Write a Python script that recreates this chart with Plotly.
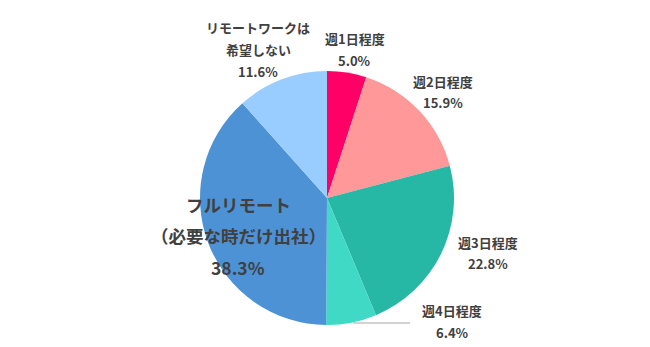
import plotly.graph_objects as go

W, H = 650, 347

categories = ["週1日程度", "週2日程度", "週3日程度", "週4日程度",
              "フルリモート（必要な時だけ出社）", "リモートワークは希望しない"]
values = [5.0, 15.9, 22.8, 6.4, 38.3, 11.6]
colors = ["#FF0066", "#FF9999", "#26B8A5", "#3FD9C6", "#4D92D5", "#99CCFF"]

# label lines per slice (text) and their pixel centers (layout)
label_lines = [
    ["週1日程度", "5.0%"],
    ["週2日程度", "15.9%"],
    ["週3日程度", "22.8%"],
    ["週4日程度", "6.4%"],
    ["フルリモート", "（必要な時だけ出社）", "38.3%"],
    ["リモートワークは", "希望しない", "11.6%"],
]
label_pos = [
    (355, [39, 61]),
    (443, [81, 102]),
    (488, [242, 263]),
    (452, [310, 332]),
    (238, [204, 235, 267]),
    (258, [28, 50, 72]),
]
label_size = [13, 13, 13, 13, 17.5, 13]

cx, cy, r = 327, 198, 127

fig = go.Figure(go.Pie(
    labels=categories,
    values=values,
    sort=False,
    direction="clockwise",
    rotation=0,
    marker=dict(colors=colors, line=dict(width=0)),
    textinfo="none",
    hoverinfo="label+percent",
    showlegend=False,
    domain=dict(x=[(cx - r) / W, (cx + r) / W],
                y=[1 - (cy + r) / H, 1 - (cy - r) / H]),
))

annotations = []
for lines, (x, ys), sz in zip(label_lines, label_pos, label_size):
    for t, y in zip(lines, ys):
        annotations.append(dict(
            text=f"<b>{t}</b>", x=x / W, y=1 - y / H, xref="paper", yref="paper",
            showarrow=False, xanchor="center", yanchor="middle",
            font=dict(family="Noto Sans CJK JP", size=sz, color="#404040"),
        ))

fig.add_shape(type="line", xref="paper", yref="paper",
              x0=353 / W, x1=410 / W, y0=1 - 323 / H, y1=1 - 323 / H,
              line=dict(color="#A6A6A6", width=1))

fig.update_layout(
    width=W, height=H,
    margin=dict(l=0, r=0, t=0, b=0),
    paper_bgcolor="white", plot_bgcolor="white",
    annotations=annotations,
)

fig.write_html("out.html")
